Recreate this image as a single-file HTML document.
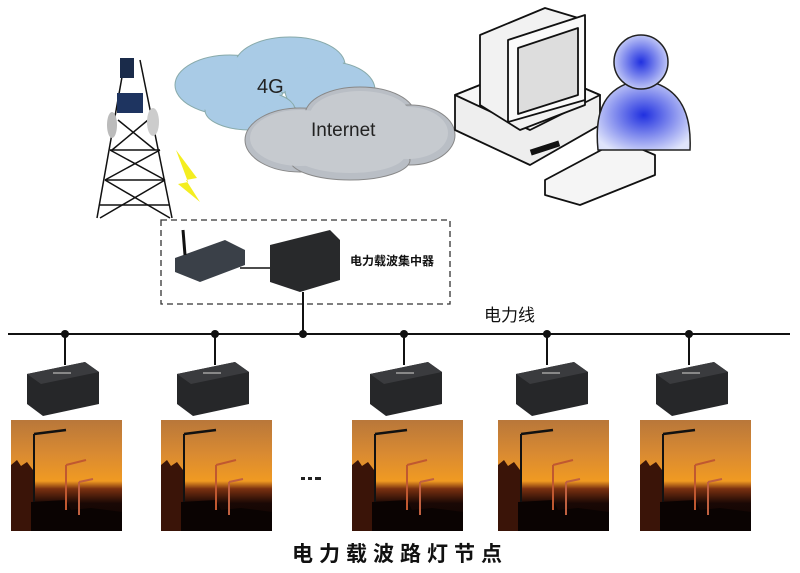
<!DOCTYPE html>
<html><head><meta charset="utf-8"><style>
html,body{margin:0;padding:0;background:#fff;}
svg{display:block;}
text{font-family:"Liberation Sans","Noto Sans CJK SC",sans-serif;}
</style></head><body>
<svg width="800" height="573" viewBox="0 0 800 573" xmlns="http://www.w3.org/2000/svg">
<defs>
<radialGradient id="blue" cx="0.5" cy="0.5" r="0.6"><stop offset="0" stop-color="#2030e0"/><stop offset="1" stop-color="#dfe4fb"/></radialGradient>
<linearGradient id="sky" x1="0" y1="0" x2="0" y2="1"><stop offset="0" stop-color="#b8773a"/><stop offset="0.3" stop-color="#d98a32"/><stop offset="0.55" stop-color="#f09a22"/><stop offset="0.62" stop-color="#7a3010"/><stop offset="0.75" stop-color="#1a0805"/><stop offset="1" stop-color="#0a0302"/></linearGradient>
<g id="mod">
<polygon points="0,12 58,0 72,10 72,42 16,54 0,42" fill="#262729"/>
<polygon points="0,12 58,0 72,10 14,22" fill="#3a3b3e"/>
<rect x="26" y="10" width="18" height="2" fill="#888"/>
</g>
<g id="photo">
<rect x="0" y="0" width="111" height="111" fill="url(#sky)"/>
<polygon points="0,45 6,40 10,46 16,42 22,50 22,111 0,111" fill="#3a1408"/>
<polygon points="20,111 20,82 55,80 60,90 80,88 111,92 111,111" fill="#0a0302"/>
<line x1="23" y1="82" x2="23" y2="14" stroke="#111" stroke-width="2"/>
<line x1="23" y1="14" x2="55" y2="10" stroke="#111" stroke-width="2.5"/>
<line x1="55" y1="90" x2="55" y2="45" stroke="#c05830" stroke-width="2"/>
<line x1="55" y1="45" x2="75" y2="40" stroke="#c05830" stroke-width="2"/>
<line x1="68" y1="95" x2="68" y2="62" stroke="#c06040" stroke-width="2"/>
<line x1="68" y1="62" x2="82" y2="59" stroke="#c06040" stroke-width="2"/>
</g>
</defs>
<rect width="800" height="573" fill="#fff"/>

<!-- tower -->
<g stroke="#111" stroke-width="1.5" fill="none">
<line x1="125" y1="60" x2="97" y2="218"/><line x1="140" y1="60" x2="172" y2="218"/>
<line x1="110" y1="150" x2="160" y2="150"/><line x1="105" y1="180" x2="165" y2="180"/><line x1="100" y1="205" x2="170" y2="205"/>
<line x1="110" y1="150" x2="165" y2="180"/><line x1="160" y1="150" x2="105" y2="180"/>
<line x1="105" y1="180" x2="170" y2="218"/><line x1="165" y1="180" x2="100" y2="218"/>
<line x1="118" y1="120" x2="155" y2="150"/><line x1="148" y1="120" x2="112" y2="150"/>
</g>
<rect x="120" y="58" width="14" height="20" fill="#1a2b4a"/>
<rect x="117" y="93" width="26" height="20" fill="#1e3460"/>
<ellipse cx="112" cy="125" rx="5" ry="13" fill="#bbb"/><ellipse cx="153" cy="122" rx="6" ry="14" fill="#ccc"/>
<polygon points="176,150 197,178 186,180 200,202 178,184 188,182" fill="#f4ee20"/>

<!-- clouds -->
<g fill="#a9cbe6" stroke="#8aa" stroke-width="1">
<ellipse cx="230" cy="85" rx="55" ry="30"/><ellipse cx="290" cy="65" rx="55" ry="28"/><ellipse cx="330" cy="90" rx="45" ry="28"/><ellipse cx="250" cy="110" rx="45" ry="20"/>
</g>
<g fill="#a9cbe6"><ellipse cx="230" cy="85" rx="53" ry="28"/><ellipse cx="290" cy="65" rx="53" ry="26"/><ellipse cx="330" cy="90" rx="43" ry="26"/></g>
<g fill="#b9bec5" stroke="#888" stroke-width="1">
<ellipse cx="300" cy="140" rx="55" ry="32"/><ellipse cx="360" cy="115" rx="55" ry="28"/><ellipse cx="410" cy="135" rx="45" ry="30"/><ellipse cx="350" cy="160" rx="60" ry="20"/>
</g>
<g fill="#c6cacf"><ellipse cx="300" cy="138" rx="50" ry="28"/><ellipse cx="360" cy="115" rx="50" ry="24"/><ellipse cx="408" cy="133" rx="40" ry="26"/><ellipse cx="350" cy="155" rx="55" ry="18"/></g>
<text x="257" y="93" font-size="20" fill="#222">4G</text>
<text x="311" y="136" font-size="19" fill="#222">Internet</text>

<!-- computer -->
<g stroke="#111" stroke-width="1.8" stroke-linejoin="round">
<polygon points="455,95 530,65 600,95 600,125 530,165 455,130" fill="#eee"/>
<polygon points="455,95 530,65 600,95 530,130" fill="#f7f7f7"/>
<polygon points="480,35 545,8 585,20 585,105 520,130 480,105" fill="#f2f2f2"/>
<polygon points="508,40 585,15 585,100 508,122" fill="#fafafa"/>
<polygon points="518,48 578,28 578,95 518,114" fill="#ddd"/>
<polygon points="545,180 620,140 655,155 655,175 580,205 545,195" fill="#f5f5f5"/>
</g>
<rect x="530" y="145" width="30" height="6" fill="#111" transform="rotate(-18 545 148)"/>
<!-- person -->
<path d="M598,150 C594,110 605,85 642,80 C678,85 692,110 690,150 Z" fill="url(#blue)" stroke="#222" stroke-width="1.5"/>
<circle cx="641" cy="62" r="27" fill="url(#blue)" stroke="#222" stroke-width="1.5"/>

<!-- dashed box -->
<rect x="161" y="220" width="289" height="84" fill="none" stroke="#333" stroke-width="1.3" stroke-dasharray="6,4"/>
<polygon points="175,258 225,240 245,250 245,265 200,282 175,272" fill="#3a4048"/>
<line x1="185" y1="255" x2="183" y2="230" stroke="#111" stroke-width="3"/>
<line x1="240" y1="268" x2="270" y2="268" stroke="#111" stroke-width="1.5"/>
<polygon points="270,245 330,230 340,240 340,280 300,292 270,282" fill="#28292b"/>
<text x="350" y="265" font-size="12" font-weight="bold" fill="#111">电力载波集中器</text>
<line x1="303" y1="292" x2="303" y2="334" stroke="#111" stroke-width="2"/>

<!-- power line -->
<line x1="8" y1="334" x2="790" y2="334" stroke="#111" stroke-width="2"/>
<text x="484" y="321" font-size="17" fill="#111">电力线</text>
<g fill="#111">
<circle cx="65" cy="334" r="4"/><circle cx="215" cy="334" r="4"/><circle cx="303" cy="334" r="4"/><circle cx="404" cy="334" r="4"/><circle cx="547" cy="334" r="4"/><circle cx="689" cy="334" r="4"/>
</g>
<g stroke="#111" stroke-width="2">
<line x1="65" y1="334" x2="65" y2="365"/><line x1="215" y1="334" x2="215" y2="365"/><line x1="404" y1="334" x2="404" y2="365"/><line x1="547" y1="334" x2="547" y2="365"/><line x1="689" y1="334" x2="689" y2="365"/>
</g>
<use href="#mod" x="27" y="362"/><use href="#mod" x="177" y="362"/><use href="#mod" x="370" y="362"/><use href="#mod" x="516" y="362"/><use href="#mod" x="656" y="362"/>
<use href="#photo" x="11" y="420"/><use href="#photo" x="161" y="420"/><use href="#photo" x="352" y="420"/><use href="#photo" x="498" y="420"/><use href="#photo" x="640" y="420"/>
<g fill="#222"><rect x="301" y="477" width="4" height="3"/><rect x="308" y="477" width="4" height="3"/><rect x="315" y="477" width="6" height="3"/></g>
<text x="400" y="561" font-size="21" font-weight="bold" fill="#111" text-anchor="middle" letter-spacing="6">电力载波路灯节点</text>
</svg>
</body></html>
